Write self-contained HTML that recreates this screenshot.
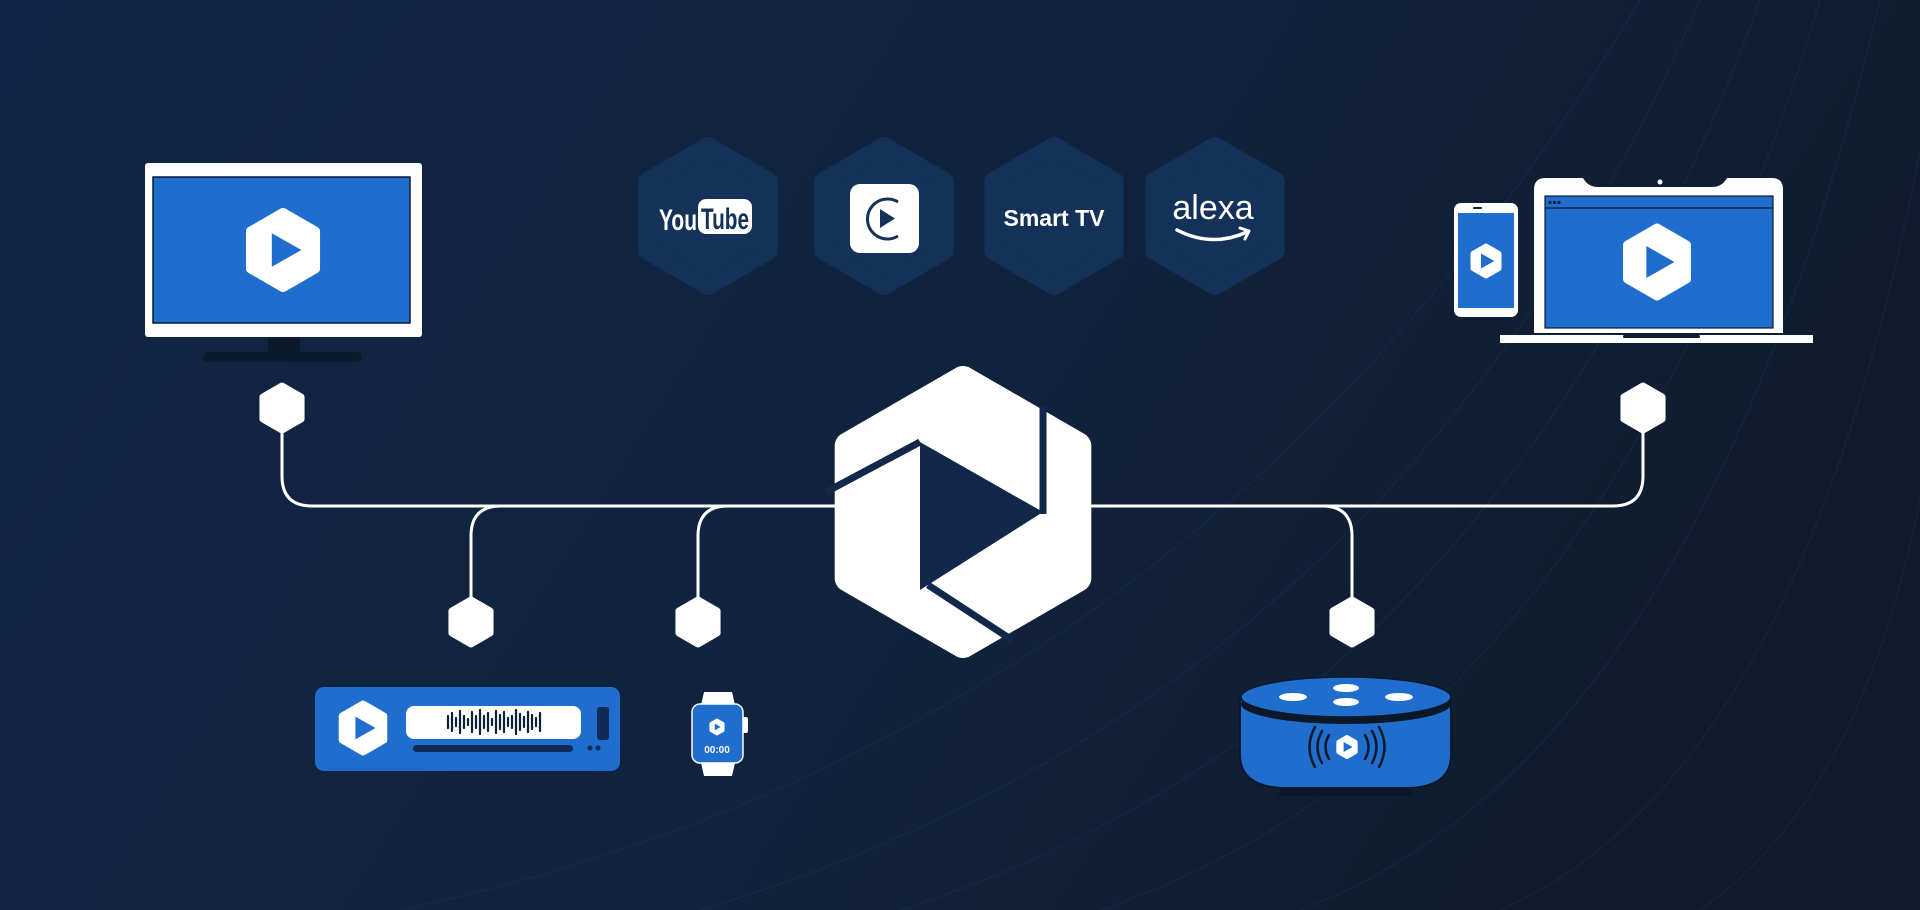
<!DOCTYPE html>
<html><head><meta charset="utf-8"><style>
html,body{margin:0;padding:0;width:1920px;height:910px;overflow:hidden;background:#10233d}
svg{display:block}
</style></head><body>
<svg width="1920" height="910" viewBox="0 0 1920 910" xmlns="http://www.w3.org/2000/svg">
<defs>
<linearGradient id="bg" x1="0" y1="0" x2="1" y2="0.3">
<stop offset="0" stop-color="#112646"/><stop offset="0.6" stop-color="#10223c"/><stop offset="1" stop-color="#0f1c2e"/>
</linearGradient>
<polygon id="hx" points="0,-1 0.866,-0.5 0.866,0.5 0,1 -0.866,0.5 -0.866,-0.5" style="stroke-linejoin:round" vector-effect="non-scaling-stroke"/>
<polygon id="tri" points="-0.28,-0.42 -0.28,0.42 0.46,0"/>
</defs>
<rect width="1920" height="910" fill="url(#bg)"/>
<g fill="none" stroke="#2a4a75" stroke-opacity="0.18" stroke-width="1.5">
<path d="M700,910 Q1400,700 1700,0"/>
<path d="M900,910 Q1500,720 1760,0"/>
<path d="M1100,910 Q1600,740 1820,0"/>
<path d="M1300,910 Q1700,760 1880,0"/>
<path d="M1500,910 Q1800,780 1920,150"/>
<path d="M1700,910 Q1860,800 1920,500"/>
<path d="M400,910 Q1200,740 1640,0"/>
</g>

<!-- provider hexes -->
<g fill="#143259" stroke="#143259" stroke-width="18">
<use href="#hx" transform="translate(708,216) scale(70)"/>
<use href="#hx" transform="translate(884,216) scale(70)"/>
<use href="#hx" transform="translate(1054,216) scale(70)"/>
<use href="#hx" transform="translate(1215,216) scale(70)"/>
</g>
<!-- YouTube -->
<text x="659" y="230" font-family="Liberation Sans Narrow, Liberation Sans, sans-serif" font-weight="bold" font-size="30" fill="#fff" textLength="38" lengthAdjust="spacingAndGlyphs">You</text>
<rect x="698" y="199" width="54" height="35" rx="8" fill="#fff"/>
<text x="701" y="229" font-family="Liberation Sans Narrow, Liberation Sans, sans-serif" font-weight="bold" font-size="30" fill="#143259" textLength="48" lengthAdjust="spacingAndGlyphs">Tube</text>
<!-- C icon -->
<rect x="850" y="184" width="69" height="69" rx="10" fill="#fff"/>
<path d="M898,202 A20,20 0 1 0 898,236" fill="none" stroke="#143259" stroke-width="3"/>
<polygon points="880,209 880,228 895,218.5" fill="#143259"/>
<!-- Smart TV -->
<text x="1054" y="226" text-anchor="middle" font-family="Liberation Sans, sans-serif" font-weight="bold" font-size="23" fill="#fff">Smart TV</text>
<!-- alexa -->
<text x="1213" y="219" text-anchor="middle" font-family="Liberation Sans, sans-serif" font-size="34" fill="#fff">alexa</text>
<path d="M1177,230 Q1212,248 1247,232" fill="none" stroke="#fff" stroke-width="3.5" stroke-linecap="round"/>
<path d="M1240,228 L1249,231 L1245,239" fill="none" stroke="#fff" stroke-width="3" stroke-linecap="round" stroke-linejoin="round"/>

<!-- connectors -->
<g fill="none" stroke="#fff" stroke-width="3">
<path d="M282,430 V476 Q282,506 312,506 H840"/>
<path d="M471,598 V536 Q471,506 501,506"/>
<path d="M698,598 V536 Q698,506 728,506"/>
<path d="M1090,506 H1613 Q1643,506 1643,476 V430"/>
<path d="M1322,506 Q1352,506 1352,536 V598"/>
</g>
<g fill="#fff" stroke="#fff" stroke-width="7">
<use href="#hx" transform="translate(282,408) scale(22)"/>
<use href="#hx" transform="translate(471,622) scale(22)"/>
<use href="#hx" transform="translate(698,622) scale(22)"/>
<use href="#hx" transform="translate(1352,622) scale(22)"/>
<use href="#hx" transform="translate(1643,408) scale(22)"/>
</g>

<!-- center logo -->
<g fill="#fff" stroke="#fff" stroke-width="28">
<use href="#hx" transform="translate(963,512) scale(132)"/>
</g>
<polygon points="920,442 920,590 1043,512" fill="#11284a"/>
<g stroke="#11284a" stroke-width="7" fill="none">
<line x1="920" y1="442" x2="826" y2="492"/>
<line x1="1043" y1="406" x2="1043" y2="514"/>
<line x1="928" y1="585" x2="1012" y2="640"/>
</g>

<!-- TV -->
<rect x="145" y="163" width="277" height="174" rx="3" fill="#fff"/>
<rect x="153" y="177" width="257" height="146" fill="#1f6dcc" stroke="#0d1d33" stroke-width="1.5"/>
<rect x="268" y="337" width="32" height="16" fill="#0c1a2e"/>
<rect x="203" y="352" width="159" height="10" rx="5" fill="#0c1a2e"/>
<g fill="#fff" stroke="#fff" stroke-width="10"><use href="#hx" transform="translate(283,250) scale(37)"/></g>
<use href="#tri" transform="translate(283,250) scale(40)" fill="#1f6dcc"/>

<!-- Laptop -->
<path d="M1545,178 H1583 Q1588,187 1598,187 H1712 Q1722,187 1727,178 H1772 Q1783,178 1783,190 V333 H1534 V190 Q1534,178 1545,178 Z" fill="#fff"/>
<circle cx="1660" cy="182" r="2.5" fill="#fff"/>
<rect x="1545" y="196" width="228" height="132" fill="#1f6dcc" stroke="#0d1d33" stroke-width="1.2"/>
<line x1="1545" y1="208" x2="1773" y2="208" stroke="#0d1d33" stroke-width="1.2"/>
<circle cx="1550" cy="202.5" r="1.6" fill="#0d1d33"/><circle cx="1554.5" cy="202.5" r="1.6" fill="#0d1d33"/><circle cx="1559" cy="202.5" r="1.6" fill="#0d1d33"/>
<rect x="1500" y="335" width="313" height="8" fill="#fff"/>
<rect x="1623" y="335" width="77" height="3" rx="1.5" fill="#0d1d33"/>
<g fill="#fff" stroke="#fff" stroke-width="9"><use href="#hx" transform="translate(1657,262) scale(34)"/></g>
<use href="#tri" transform="translate(1657,262) scale(38)" fill="#1f6dcc"/>
<!-- Phone -->
<rect x="1454" y="203" width="64" height="114" rx="7" fill="#fff"/>
<rect x="1458" y="213" width="56" height="95" fill="#1f6dcc"/>
<rect x="1473" y="207" width="9" height="2" rx="1" fill="#0d1d33"/>
<g fill="#fff" stroke="#fff" stroke-width="5"><use href="#hx" transform="translate(1486,261) scale(15)"/></g>
<use href="#tri" transform="translate(1486,261) scale(18)" fill="#1f6dcc"/>

<!-- Radio -->
<rect x="315" y="687" width="305" height="84" rx="9" fill="#1f6dcc"/>
<g fill="#fff" stroke="#fff" stroke-width="7"><use href="#hx" transform="translate(363,728) scale(24)"/></g>
<use href="#tri" transform="translate(363,728) scale(27)" fill="#1f6dcc"/>
<rect x="406" y="706" width="175" height="33" rx="8" fill="#fff"/>
<g stroke="#0f2036" stroke-width="2.2" stroke-linecap="round">
<line x1="448" y1="716" x2="448" y2="728"/><line x1="452" y1="713" x2="452" y2="731"/><line x1="456" y1="718" x2="456" y2="726"/><line x1="460" y1="711" x2="460" y2="733"/><line x1="464" y1="716" x2="464" y2="728"/><line x1="468" y1="719" x2="468" y2="725"/><line x1="472" y1="712" x2="472" y2="732"/><line x1="476" y1="716" x2="476" y2="728"/><line x1="480" y1="710" x2="480" y2="734"/><line x1="484" y1="716" x2="484" y2="728"/><line x1="488" y1="713" x2="488" y2="731"/><line x1="492" y1="719" x2="492" y2="725"/><line x1="496" y1="711" x2="496" y2="733"/><line x1="500" y1="715" x2="500" y2="729"/><line x1="504" y1="712" x2="504" y2="732"/><line x1="508" y1="718" x2="508" y2="726"/><line x1="512" y1="716" x2="512" y2="728"/><line x1="516" y1="710" x2="516" y2="734"/><line x1="520" y1="714" x2="520" y2="730"/><line x1="524" y1="717" x2="524" y2="727"/><line x1="528" y1="712" x2="528" y2="732"/><line x1="532" y1="715" x2="532" y2="729"/><line x1="536" y1="718" x2="536" y2="726"/><line x1="540" y1="713" x2="540" y2="731"/>
</g>
<rect x="413" y="745" width="160" height="7" rx="3.5" fill="#0e2a55"/>
<rect x="597" y="707" width="12" height="33" rx="3" fill="#0e2a55"/>
<circle cx="590" cy="748" r="2.5" fill="#0e2a55"/><circle cx="598" cy="748" r="2.5" fill="#0e2a55"/>

<!-- Watch -->
<path d="M701,705 L704,692 H732 L735,705 Z" fill="#fff"/>
<path d="M701,763 L704,776 H732 L735,763 Z" fill="#fff"/>
<rect x="742" y="717" width="6" height="16" rx="2" fill="#fff"/>
<rect x="692" y="704" width="51" height="59" rx="8" fill="#1f6dcc" stroke="#fff" stroke-width="1.5"/>
<g fill="#fff" stroke="#fff" stroke-width="3"><use href="#hx" transform="translate(717,727) scale(7)"/></g>
<use href="#tri" transform="translate(717,727) scale(8)" fill="#1f6dcc"/>
<text x="717" y="753" text-anchor="middle" font-family="Liberation Sans, sans-serif" font-weight="bold" font-size="10" fill="#fff">00:00</text>

<!-- Echo dot -->
<path d="M1282,786 H1410 L1414,796 H1278 Z" fill="#0b1829"/>
<path d="M1240,700 V755 Q1240,786 1282,788 H1410 Q1451,786 1451,755 V700 Z" fill="#1f6dcc" stroke="#0b1829" stroke-width="2"/>
<ellipse cx="1346" cy="704" rx="105" ry="20" fill="#0b1829"/>
<ellipse cx="1346" cy="697" rx="105" ry="20" fill="#1f6dcc" stroke="#0b1829" stroke-width="1.5"/>
<g fill="#fff">
<ellipse cx="1293" cy="697" rx="14" ry="4"/><ellipse cx="1346" cy="688" rx="13" ry="4"/><ellipse cx="1346" cy="702" rx="13" ry="4"/><ellipse cx="1399" cy="697" rx="14" ry="4"/>
</g>
<g fill="#fff" stroke="#fff" stroke-width="4"><use href="#hx" transform="translate(1347,747) scale(10)"/></g>
<use href="#tri" transform="translate(1347,747) scale(12)" fill="#1f6dcc"/>
<g fill="none" stroke="#0b1829" stroke-width="2.5" stroke-linecap="round">
<path d="M1329,735 Q1322,747 1329,759"/><path d="M1322,731 Q1313,747 1322,763"/><path d="M1315,727 Q1304,747 1315,767"/>
<path d="M1365,735 Q1372,747 1365,759"/><path d="M1372,731 Q1381,747 1372,763"/><path d="M1379,727 Q1390,747 1379,767"/>
</g>
</svg>
</body></html>
